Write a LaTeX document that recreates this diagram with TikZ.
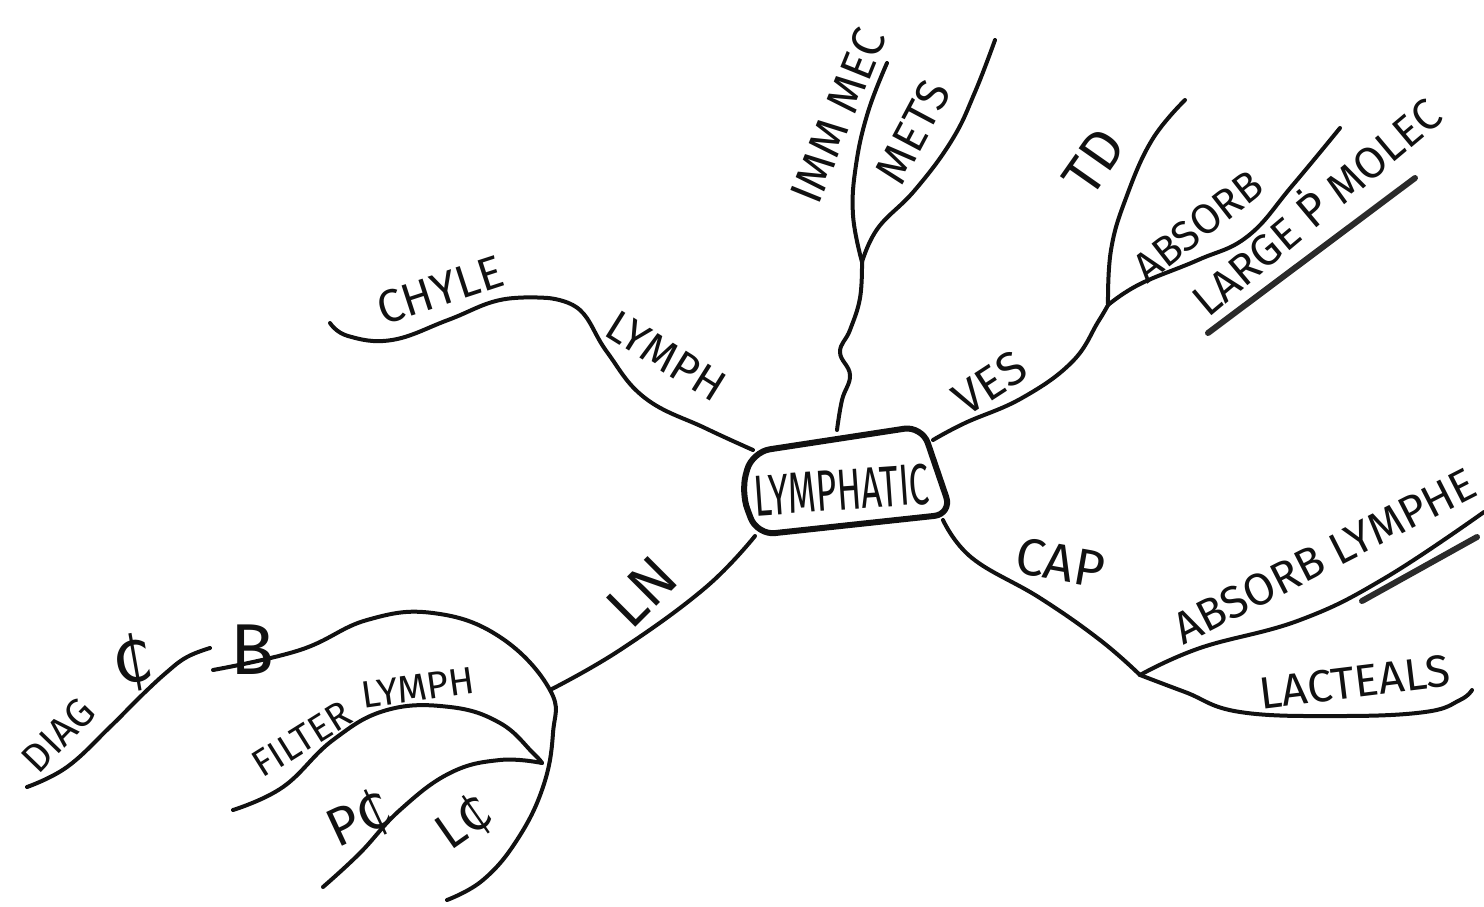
\documentclass[tikz,border=0pt]{standalone}
\usepackage{fontspec}
\setmainfont{Fira Sans}
\newfontfamily\handn{Fira Sans}[FakeStretch=0.62]
\newfontfamily\dv{DejaVu Sans}
\definecolor{ink}{HTML}{111111}
\definecolor{ink2}{HTML}{2A2A2A}
\begin{document}
\begin{tikzpicture}[x=1pt,y=-1pt,
  branch/.style={draw=ink,line width=4pt,line cap=round,line join=round},
  thickline/.style={draw=ink2,line width=6pt,line cap=round},
  lbl/.style={text=ink,inner sep=0pt,font=\fontsize{#1}{#1}\selectfont},
  lbl/.default=36]
\useasboundingbox (0,0) rectangle (1484,906);
\fill[white] (0,0) rectangle (1484,906);

% hub box
\coordinate (bTL) at (752,452);
\coordinate (bTR) at (922,426);
\coordinate (bBR) at (952,514);
\coordinate (bBL) at (757,535);
\coordinate (bL) at (741,492);
\draw[ink,line width=6pt,rounded corners=18pt,line join=round] (bTL) -- (bTR) -- (bBR) -- (bBL) -- (bL) -- cycle;
\node[lbl=58,rotate=4,font=\handn\fontsize{58}{58}\selectfont] (hub) at (842,490) {LYMPHATIC};

% junction / end coordinates
\coordinate (hTop) at (837,430);
\coordinate (hVes) at (933,440);
\coordinate (hCap) at (943,520);
\coordinate (hLymph) at (753,450);
\coordinate (hLN) at (755,536);
\coordinate (jTop) at (862,262);
\coordinate (eImm) at (887,63);
\coordinate (eMets) at (995,40);
\coordinate (jVes) at (1108,305);
\coordinate (eTD) at (1185,100);
\coordinate (eAbs) at (1340,128);
\coordinate (jCap) at (1140,675);
\coordinate (eAbsL) at (1484,512);
\coordinate (eLac) at (1472,690);
\coordinate (jLymph) at (548,298);
\coordinate (eChyle) at (330,323);
\coordinate (jLN) at (550,690);
\coordinate (eB) at (213,670);
\coordinate (eArc) at (447,900);
\coordinate (jFil) at (542,763);
\coordinate (eFil) at (233,810);
\coordinate (ePC) at (323,887);
\coordinate (sDiag) at (210,648);
\coordinate (eDiag) at (27,787);

% top branch
\draw[branch] plot[smooth,tension=0.7] coordinates {(hTop) (842,400) (850,375) (840,352) (850,330) (860,298) (jTop)};
\draw[branch] plot[smooth,tension=0.7] coordinates {(jTop) (853,215) (856,165) (868,112) (eImm)};
\draw[branch] plot[smooth,tension=0.7] coordinates {(jTop) (878,228) (915,190) (952,140) (975,92) (eMets)};

% VES branch
\draw[branch] plot[smooth,tension=0.7] coordinates {(hVes) (965,423) (1022,398) (1072,362) (1098,322) (jVes)};
\draw[branch] plot[smooth,tension=0.7] coordinates {(jVes) (1111,250) (1126,198) (1152,140) (eTD)};
\draw[branch] plot[smooth,tension=0.7] coordinates {(jVes) (1140,284) (1198,260) (1248,236) (1292,186) (eAbs)};
\coordinate (uA) at (1208,333);
\coordinate (uB) at (1415,178);
\draw[thickline] (uA) -- (uB);

% CAP branch
\draw[branch] plot[smooth,tension=0.7] coordinates {(hCap) (972,558) (1040,598) (1100,640) (jCap)};
\draw[branch] plot[smooth,tension=0.7] coordinates {(jCap) (1200,648) (1300,620) (1385,578) (eAbsL)};
\draw[branch] plot[smooth,tension=0.7] coordinates {(jCap) (1185,692) (1240,712) (1340,716) (1425,712) (1460,700) (eLac)};
\coordinate (uC) at (1362,601);
\coordinate (uD) at (1477,537);
\draw[thickline] (uC) -- (uD);

% LYMPH / CHYLE
\draw[branch] plot[smooth,tension=0.7] coordinates {(hLymph) (705,428) (645,398) (607,352) (580,310) (jLymph)};
\draw[branch] plot[smooth,tension=0.7] coordinates {(jLymph) (500,300) (448,320) (392,340) (348,336) (eChyle)};

% LN
\draw[branch] plot[smooth,tension=0.7] coordinates {(hLN) (705,588) (620,650) (jLN)};
\draw[branch] plot[smooth,tension=0.7] coordinates {(eB) (300,650) (367,620) (433,613) (500,637) (jLN) (553,733) (543,787) (517,840) (483,880) (eArc)};
\draw[branch] plot[smooth,tension=0.7] coordinates {(eFil) (283,787) (333,740) (387,710) (450,707) (500,723) (533,753) (jFil)};
\draw[branch] plot[smooth,tension=0.7] coordinates {(ePC) (360,853) (400,810) (450,773) (500,760) (jFil)};
\draw[branch] plot[smooth,tension=0.7] coordinates {(sDiag) (187,657) (167,672) (140,697) (110,727) (67,767) (eDiag)};

% labels
\node[lbl=46,rotate=18] (chyle) at (440,290) {CHYLE};
\node[lbl=44,rotate=-32] (lymph) at (666,356) {LYMPH};
\node[lbl=46,rotate=68] (imm) at (838,116) {IMM MEC};
\node[lbl=46,rotate=62] (mets) at (913,132) {METS};
\node[lbl=56,rotate=55] (td) at (1094,162) {TD};
\node[lbl=47,rotate=33] (ves) at (990,383) {VES};
\node[lbl=42,rotate=38] (absorb) at (1198,226) {ABSORB};
\node[lbl=44,rotate=40] (large) at (1314,204) {LARGE {\dv Ṗ} MOLEC};
\node[lbl=52,rotate=-10] (cap) at (1060,563) {CAP};
\node[lbl=45,rotate=27] (absl) at (1325,556) {ABSORB LYMPHE};
\node[lbl=45,rotate=7] (lac) at (1355,682) {LACTEALS};
\node[lbl=60,rotate=45] (ln) at (642,592) {LN};
\node[lbl=72] (b) at (252,650) {B};
\node[lbl=40,rotate=46] (diag) at (58,735) {DIAG};
\node[lbl=64,rotate=10] (diagc) at (133,663) {\dv ₵};
\node[lbl=38,rotate=32] (filter) at (302,739) {FILTER};
\node[lbl=38,rotate=8] (flymph) at (418,688) {LYMPH};
\node[lbl=54,rotate=25] (pc) at (360,820) {P{\dv ₵}};
\node[lbl=50,rotate=35] (lc) at (465,823) {L{\dv ₵}};
\end{tikzpicture}
\end{document}
